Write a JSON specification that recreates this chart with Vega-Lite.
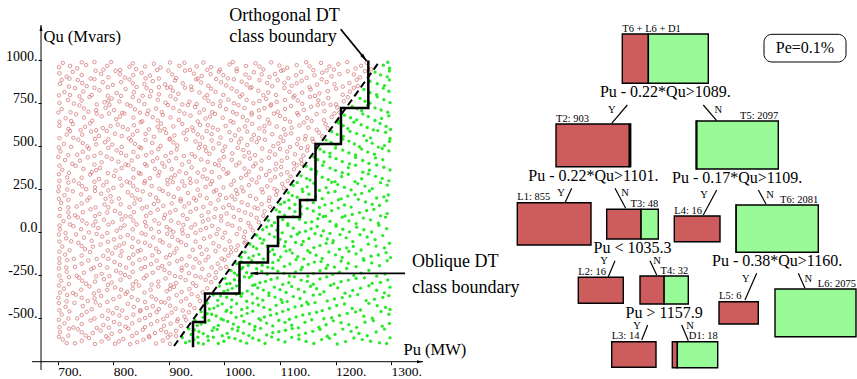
{
"$schema":"https://vega.github.io/schema/vega-lite/v6.json",
"width":857,"height":379,"autosize":{"type":"none"},"padding":0,"background":"white",
"config":{"view":{"stroke":null},"font":"Liberation Serif"},
"datasets":{
"red":[{"p":709,"q":983},{"p":735,"q":952},{"p":751,"q":971},{"p":782,"q":944},{"p":796,"q":988},{"p":829,"q":961},{"p":841,"q":947},{"p":873,"q":978},{"p":885,"q":956},{"p":919,"q":966},{"p":938,"q":942},{"p":962,"q":985},{"p":976,"q":959},{"p":1009,"q":974},{"p":1022,"q":949},{"p":1056,"q":981},{"p":1070,"q":945},{"p":1099,"q":968},{"p":1113,"q":954},{"p":1147,"q":987},{"p":1160,"q":941},{"p":1189,"q":963},{"p":1205,"q":976},{"p":1236,"q":951},{"p":1256,"q":984},
{"p":716,"q":903},{"p":727,"q":931},{"p":759,"q":892},{"p":778,"q":919},{"p":804,"q":936},{"p":821,"q":898},{"p":851,"q":925},{"p":866,"q":909},{"p":899,"q":938},{"p":913,"q":895},{"p":945,"q":921},{"p":959,"q":907},{"p":990,"q":932},{"p":1006,"q":893},{"p":1038,"q":915},{"p":1053,"q":929},{"p":1081,"q":901},{"p":1102,"q":937},{"p":1129,"q":911},{"p":1148,"q":896},{"p":1176,"q":926},{"p":1193,"q":905},{"p":1222,"q":934},{"p":1244,"q":899},
{"p":704,"q":862},{"p":736,"q":884},{"p":752,"q":848},{"p":781,"q":871},{"p":799,"q":855},{"p":829,"q":887},{"p":842,"q":843},{"p":871,"q":877},{"p":893,"q":858},{"p":911,"q":881},{"p":940,"q":846},{"p":958,"q":869},{"p":985,"q":889},{"p":1003,"q":852},{"p":1031,"q":874},{"p":1049,"q":841},{"p":1077,"q":866},{"p":1096,"q":883},{"p":1121,"q":850},{"p":1139,"q":879},{"p":1167,"q":857},{"p":1184,"q":872},{"p":1213,"q":845},{"p":1238,"q":885},
{"p":712,"q":813},{"p":731,"q":836},{"p":761,"q":797},{"p":775,"q":824},{"p":806,"q":808},{"p":822,"q":831},{"p":853,"q":792},{"p":868,"q":819},{"p":897,"q":838},{"p":917,"q":803},{"p":941,"q":826},{"p":969,"q":795},{"p":984,"q":815},{"p":1013,"q":834},{"p":1032,"q":799},{"p":1061,"q":821},{"p":1079,"q":811},{"p":1108,"q":837},{"p":1126,"q":793},{"p":1155,"q":828},{"p":1171,"q":806},{"p":1201,"q":833},{"p":1226,"q":816},
{"p":718,"q":767},{"p":729,"q":746},{"p":757,"q":785},{"p":784,"q":754},{"p":797,"q":776},{"p":825,"q":742},{"p":846,"q":763},{"p":866,"q":788},{"p":894,"q":751},{"p":912,"q":772},{"p":937,"q":758},{"p":964,"q":781},{"p":979,"q":744},{"p":1007,"q":769},{"p":1028,"q":787},{"p":1052,"q":748},{"p":1075,"q":774},{"p":1094,"q":756},{"p":1124,"q":783},{"p":1140,"q":745},{"p":1169,"q":765},{"p":1187,"q":779},{"p":1215,"q":760},
{"p":707,"q":714},{"p":739,"q":736},{"p":755,"q":699},{"p":786,"q":722},{"p":801,"q":708},{"p":831,"q":733},{"p":848,"q":694},{"p":877,"q":717},{"p":898,"q":738},{"p":919,"q":703},{"p":947,"q":726},{"p":963,"q":711},{"p":992,"q":731},{"p":1015,"q":697},{"p":1036,"q":720},{"p":1062,"q":707},{"p":1083,"q":734},{"p":1109,"q":715},{"p":1131,"q":692},{"p":1156,"q":728},{"p":1180,"q":702},{"p":1203,"q":724},
{"p":714,"q":661},{"p":733,"q":684},{"p":762,"q":647},{"p":779,"q":672},{"p":805,"q":655},{"p":820,"q":688},{"p":852,"q":643},{"p":871,"q":667},{"p":889,"q":680},{"p":918,"q":651},{"p":939,"q":676},{"p":966,"q":659},{"p":983,"q":686},{"p":1011,"q":645},{"p":1033,"q":669},{"p":1049,"q":682},{"p":1078,"q":653},{"p":1100,"q":674},{"p":1118,"q":641},{"p":1149,"q":663},{"p":1166,"q":685},{"p":1193,"q":668},
{"p":703,"q":617},{"p":741,"q":592},{"p":758,"q":631},{"p":781,"q":604},{"p":808,"q":625},{"p":826,"q":596},{"p":849,"q":638},{"p":880,"q":611},{"p":892,"q":599},{"p":924,"q":628},{"p":942,"q":608},{"p":970,"q":621},{"p":988,"q":594},{"p":1016,"q":636},{"p":1037,"q":613},{"p":1063,"q":602},{"p":1081,"q":630},{"p":1107,"q":597},{"p":1135,"q":619},{"p":1151,"q":606},{"p":1182,"q":626},
{"p":716,"q":566},{"p":728,"q":547},{"p":760,"q":583},{"p":774,"q":558},{"p":803,"q":571},{"p":828,"q":544},{"p":843,"q":587},{"p":873,"q":553},{"p":895,"q":575},{"p":910,"q":561},{"p":944,"q":588},{"p":960,"q":549},{"p":977,"q":569},{"p":1009,"q":580},{"p":1030,"q":542},{"p":1053,"q":564},{"p":1072,"q":585},{"p":1101,"q":551},{"p":1120,"q":573},{"p":1146,"q":557},{"p":1170,"q":578},
{"p":711,"q":512},{"p":737,"q":536},{"p":753,"q":497},{"p":785,"q":521},{"p":798,"q":508},{"p":832,"q":531},{"p":847,"q":493},{"p":870,"q":517},{"p":901,"q":538},{"p":915,"q":503},{"p":948,"q":526},{"p":965,"q":495},{"p":990,"q":514},{"p":1012,"q":533},{"p":1041,"q":506},{"p":1058,"q":522},{"p":1088,"q":499},{"p":1106,"q":529},{"p":1131,"q":511},{"p":1160,"q":524},
{"p":705,"q":467},{"p":735,"q":449},{"p":756,"q":484},{"p":777,"q":458},{"p":806,"q":474},{"p":823,"q":444},{"p":850,"q":487},{"p":869,"q":462},{"p":894,"q":441},{"p":914,"q":479},{"p":941,"q":453},{"p":967,"q":471},{"p":980,"q":486},{"p":1014,"q":457},{"p":1034,"q":476},{"p":1055,"q":446},{"p":1082,"q":468},{"p":1100,"q":482},{"p":1127,"q":451},{"p":1149,"q":473},
{"p":713,"q":418},{"p":726,"q":396},{"p":754,"q":433},{"p":779,"q":405},{"p":797,"q":424},{"p":822,"q":392},{"p":844,"q":437},{"p":871,"q":411},{"p":888,"q":399},{"p":913,"q":428},{"p":936,"q":408},{"p":958,"q":421},{"p":983,"q":394},{"p":999,"q":435},{"p":1027,"q":402},{"p":1046,"q":426},{"p":1067,"q":414},{"p":1093,"q":397},{"p":1113,"q":431},{"p":1138,"q":419},
{"p":708,"q":361},{"p":732,"q":384},{"p":761,"q":347},{"p":776,"q":372},{"p":804,"q":356},{"p":827,"q":388},{"p":846,"q":343},{"p":875,"q":367},{"p":892,"q":379},{"p":919,"q":351},{"p":941,"q":375},{"p":964,"q":362},{"p":990,"q":386},{"p":1007,"q":345},{"p":1036,"q":369},{"p":1052,"q":381},{"p":1081,"q":353},{"p":1102,"q":377},{"p":1125,"q":364},
{"p":717,"q":316},{"p":729,"q":298},{"p":758,"q":333},{"p":774,"q":307},{"p":801,"q":325},{"p":824,"q":293},{"p":849,"q":337},{"p":866,"q":312},{"p":897,"q":301},{"p":911,"q":329},{"p":938,"q":309},{"p":961,"q":321},{"p":978,"q":295},{"p":1004,"q":338},{"p":1030,"q":314},{"p":1049,"q":304},{"p":1075,"q":331},{"p":1091,"q":318},{"p":1114,"q":296},
{"p":702,"q":263},{"p":738,"q":281},{"p":751,"q":248},{"p":782,"q":271},{"p":800,"q":256},{"p":830,"q":286},{"p":843,"q":244},{"p":869,"q":267},{"p":898,"q":277},{"p":917,"q":252},{"p":939,"q":284},{"p":966,"q":261},{"p":985,"q":242},{"p":1012,"q":274},{"p":1031,"q":258},{"p":1058,"q":288},{"p":1077,"q":265},{"p":1104,"q":279},
{"p":712,"q":213},{"p":727,"q":236},{"p":757,"q":199},{"p":778,"q":222},{"p":795,"q":207},{"p":826,"q":231},{"p":840,"q":194},{"p":866,"q":217},{"p":889,"q":238},{"p":909,"q":203},{"p":934,"q":226},{"p":956,"q":212},{"p":981,"q":234},{"p":1003,"q":197},{"p":1023,"q":220},{"p":1046,"q":209},{"p":1069,"q":229},{"p":1093,"q":215},
{"p":706,"q":168},{"p":734,"q":147},{"p":753,"q":183},{"p":784,"q":159},{"p":797,"q":176},{"p":829,"q":143},{"p":848,"q":187},{"p":873,"q":162},{"p":890,"q":151},{"p":921,"q":179},{"p":936,"q":166},{"p":962,"q":145},{"p":989,"q":185},{"p":1008,"q":156},{"p":1031,"q":172},{"p":1054,"q":141},{"p":1080,"q":180},
{"p":719,"q":113},{"p":731,"q":96},{"p":759,"q":131},{"p":775,"q":104},{"p":803,"q":122},{"p":822,"q":91},{"p":852,"q":137},{"p":867,"q":110},{"p":893,"q":99},{"p":912,"q":127},{"p":939,"q":116},{"p":959,"q":94},{"p":984,"q":134},{"p":1004,"q":107},{"p":1026,"q":125},{"p":1048,"q":100},{"p":1072,"q":119},
{"p":710,"q":62},{"p":736,"q":84},{"p":752,"q":48},{"p":783,"q":71},{"p":799,"q":56},{"p":831,"q":88},{"p":842,"q":43},{"p":874,"q":67},{"p":891,"q":79},{"p":917,"q":52},{"p":933,"q":75},{"p":961,"q":60},{"p":982,"q":86},{"p":1006,"q":45},{"p":1029,"q":69},{"p":1058,"q":81},
{"p":704,"q":14},{"p":728,"q":33},{"p":756,"q":-3},{"p":773,"q":22},{"p":806,"q":6},{"p":820,"q":37},{"p":851,"q":-8},{"p":868,"q":17},{"p":896,"q":28},{"p":908,"q":0},{"p":940,"q":25},{"p":957,"q":10},{"p":978,"q":35},{"p":1001,"q":-5},{"p":1027,"q":19},{"p":1047,"q":30},
{"p":715,"q":-38},{"p":733,"q":-15},{"p":761,"q":-52},{"p":780,"q":-27},{"p":801,"q":-44},{"p":826,"q":-19},{"p":845,"q":-57},{"p":872,"q":-33},{"p":897,"q":-11},{"p":916,"q":-48},{"p":934,"q":-24},{"p":963,"q":-40},{"p":986,"q":-13},{"p":1009,"q":-55},{"p":1035,"q":-30},
{"p":708,"q":-86},{"p":737,"q":-64},{"p":749,"q":-101},{"p":777,"q":-74},{"p":804,"q":-92},{"p":819,"q":-68},{"p":849,"q":-107},{"p":866,"q":-81},{"p":889,"q":-62},{"p":914,"q":-97},{"p":931,"q":-77},{"p":956,"q":-89},{"p":980,"q":-66},{"p":1001,"q":-104},{"p":1024,"q":-80},
{"p":713,"q":-133},{"p":729,"q":-157},{"p":758,"q":-118},{"p":782,"q":-141},{"p":798,"q":-126},{"p":828,"q":-153},{"p":844,"q":-113},{"p":870,"q":-137},{"p":895,"q":-149},{"p":910,"q":-121},{"p":937,"q":-144},{"p":959,"q":-129},{"p":984,"q":-112},{"p":1007,"q":-139},
{"p":703,"q":-182},{"p":731,"q":-204},{"p":755,"q":-167},{"p":776,"q":-193},{"p":802,"q":-176},{"p":823,"q":-208},{"p":847,"q":-163},{"p":868,"q":-188},{"p":888,"q":-199},{"p":915,"q":-171},{"p":932,"q":-195},{"p":955,"q":-180},{"p":977,"q":-207},{"p":1000,"q":-164},
{"p":716,"q":-233},{"p":734,"q":-256},{"p":760,"q":-218},{"p":779,"q":-245},{"p":805,"q":-227},{"p":821,"q":-251},{"p":850,"q":-214},{"p":871,"q":-238},{"p":892,"q":-223},{"p":911,"q":-258},{"p":936,"q":-241},{"p":960,"q":-216},{"p":985,"q":-236},
{"p":706,"q":-284},{"p":738,"q":-267},{"p":751,"q":-302},{"p":783,"q":-276},{"p":797,"q":-295},{"p":829,"q":-263},{"p":841,"q":-289},{"p":869,"q":-307},{"p":894,"q":-272},{"p":913,"q":-298},{"p":930,"q":-281},{"p":957,"q":-265},{"p":976,"q":-293},
{"p":711,"q":-331},{"p":727,"q":-356},{"p":757,"q":-318},{"p":774,"q":-343},{"p":803,"q":-324},{"p":825,"q":-350},{"p":846,"q":-313},{"p":867,"q":-337},{"p":896,"q":-346},{"p":909,"q":-321},{"p":937,"q":-333},{"p":961,"q":-352},
{"p":701,"q":-384},{"p":733,"q":-366},{"p":754,"q":-402},{"p":778,"q":-373},{"p":800,"q":-392},{"p":822,"q":-362},{"p":844,"q":-397},{"p":869,"q":-378},{"p":886,"q":-408},{"p":914,"q":-369},{"p":931,"q":-389},{"p":952,"q":-376},
{"p":714,"q":-437},{"p":730,"q":-414},{"p":761,"q":-451},{"p":776,"q":-428},{"p":806,"q":-444},{"p":826,"q":-419},{"p":849,"q":-456},{"p":871,"q":-433},{"p":893,"q":-412},{"p":912,"q":-447},{"p":938,"q":-425},
{"p":707,"q":-482},{"p":735,"q":-504},{"p":752,"q":-466},{"p":780,"q":-489},{"p":799,"q":-474},{"p":824,"q":-501},{"p":848,"q":-463},{"p":866,"q":-485},{"p":890,"q":-508},{"p":905,"q":-470},{"p":928,"q":-493},
{"p":712,"q":-533},{"p":728,"q":-557},{"p":759,"q":-516},{"p":782,"q":-543},{"p":801,"q":-525},{"p":822,"q":-552},{"p":847,"q":-514},{"p":868,"q":-538},{"p":891,"q":-547},{"p":915,"q":-521},
{"p":704,"q":-584},{"p":736,"q":-567},{"p":750,"q":-603},{"p":777,"q":-575},{"p":797,"q":-594},{"p":827,"q":-563},{"p":842,"q":-589},{"p":864,"q":-607},{"p":886,"q":-571},{"p":903,"q":-598},
{"p":709,"q":-627},{"p":731,"q":-649},{"p":756,"q":-618},{"p":779,"q":-638},{"p":803,"q":-652},{"p":818,"q":-624},{"p":843,"q":-642},{"p":865,"q":-614},{"p":889,"q":-633},
{"p":702,"q":958},{"p":722,"q":966},{"p":743,"q":987},{"p":766,"q":988},{"p":789,"q":966},{"p":812,"q":942},{"p":835,"q":980},{"p":857,"q":962},{"p":879,"q":942},{"p":902,"q":985},{"p":928,"q":984},{"p":950,"q":963},{"p":969,"q":943},{"p":992,"q":944},{"p":1015,"q":988},{"p":1039,"q":965},{"p":1063,"q":962},{"p":1084,"q":986},{"p":1106,"q":941},{"p":1130,"q":970},{"p":1153,"q":963},{"p":1174,"q":983},{"p":1197,"q":944},{"p":1221,"q":988},{"p":1246,"q":966},{"p":1264,"q":946},
{"p":703,"q":923},{"p":721,"q":891},{"p":743,"q":912},{"p":768,"q":937},{"p":791,"q":899},{"p":812,"q":917},{"p":836,"q":912},{"p":858,"q":893},{"p":882,"q":892},{"p":906,"q":916},{"p":929,"q":938},{"p":952,"q":892},{"p":975,"q":918},{"p":998,"q":912},{"p":1022,"q":935},{"p":1045,"q":896},{"p":1067,"q":916},{"p":1091,"q":919},{"p":1115,"q":894},{"p":1138,"q":931},{"p":1162,"q":911},{"p":1184,"q":939},{"p":1207,"q":918},{"p":1233,"q":916},{"p":1253,"q":935},
{"p":707,"q":884},{"p":720,"q":845},{"p":744,"q":866},{"p":766,"q":888},{"p":790,"q":842},{"p":814,"q":871},{"p":835,"q":865},{"p":856,"q":860},{"p":882,"q":842},{"p":903,"q":843},{"p":925,"q":864},{"p":949,"q":887},{"p":971,"q":850},{"p":994,"q":870},{"p":1017,"q":888},{"p":1040,"q":858},{"p":1063,"q":883},{"p":1086,"q":847},{"p":1108,"q":867},{"p":1130,"q":864},{"p":1153,"q":842},{"p":1175,"q":888},{"p":1198,"q":860},{"p":1225,"q":866},{"p":1240,"q":848},
{"p":702,"q":794},{"p":722,"q":796},{"p":746,"q":816},{"p":766,"q":838},{"p":790,"q":792},{"p":814,"q":791},{"p":837,"q":812},{"p":860,"q":836},{"p":882,"q":800},{"p":907,"q":821},{"p":929,"q":839},{"p":955,"q":811},{"p":976,"q":833},{"p":998,"q":797},{"p":1022,"q":817},{"p":1046,"q":838},{"p":1070,"q":795},{"p":1093,"q":796},{"p":1117,"q":815},{"p":1140,"q":810},{"p":1163,"q":791},{"p":1186,"q":819},{"p":1213,"q":798},{"p":1233,"q":838},
{"p":703,"q":750},{"p":739,"q":789},{"p":743,"q":765},{"p":770,"q":741},{"p":791,"q":763},{"p":811,"q":759},{"p":835,"q":784},{"p":856,"q":743},{"p":880,"q":769},{"p":903,"q":789},{"p":924,"q":742},{"p":950,"q":744},{"p":971,"q":763},{"p":993,"q":759},{"p":1017,"q":748},{"p":1040,"q":768},{"p":1063,"q":761},{"p":1084,"q":741},{"p":1109,"q":768},{"p":1132,"q":764},{"p":1154,"q":786},{"p":1178,"q":746},{"p":1201,"q":742},{"p":1222,"q":784},
{"p":701,"q":694},{"p":723,"q":696},{"p":747,"q":718},{"p":769,"q":708},{"p":793,"q":738},{"p":816,"q":693},{"p":839,"q":713},{"p":863,"q":705},{"p":887,"q":697},{"p":908,"q":721},{"p":934,"q":738},{"p":955,"q":694},{"p":978,"q":696},{"p":1003,"q":714},{"p":1025,"q":737},{"p":1049,"q":693},{"p":1072,"q":720},{"p":1096,"q":698},{"p":1120,"q":733},{"p":1143,"q":710},{"p":1168,"q":738},{"p":1191,"q":739},{"p":1207,"q":696},
{"p":703,"q":641},{"p":724,"q":645},{"p":747,"q":665},{"p":770,"q":688},{"p":792,"q":689},{"p":812,"q":671},{"p":836,"q":665},{"p":861,"q":685},{"p":880,"q":648},{"p":903,"q":666},{"p":928,"q":689},{"p":952,"q":642},{"p":974,"q":671},{"p":997,"q":664},{"p":1022,"q":686},{"p":1041,"q":648},{"p":1063,"q":668},{"p":1089,"q":688},{"p":1109,"q":657},{"p":1133,"q":681},{"p":1157,"q":645},{"p":1179,"q":650},{"p":1198,"q":689},
{"p":719,"q":599},{"p":727,"q":627},{"p":749,"q":611},{"p":769,"q":591},{"p":795,"q":615},{"p":817,"q":610},{"p":837,"q":620},{"p":864,"q":596},{"p":886,"q":630},{"p":908,"q":613},{"p":933,"q":592},{"p":956,"q":623},{"p":979,"q":607},{"p":1002,"q":616},{"p":1026,"q":595},{"p":1050,"q":629},{"p":1072,"q":615},{"p":1094,"q":613},{"p":1121,"q":606},{"p":1143,"q":636},{"p":1166,"q":594},{"p":1186,"q":603},
{"p":703,"q":545},{"p":722,"q":587},{"p":744,"q":565},{"p":767,"q":541},{"p":788,"q":587},{"p":815,"q":557},{"p":835,"q":566},{"p":858,"q":570},{"p":884,"q":589},{"p":902,"q":543},{"p":927,"q":574},{"p":952,"q":567},{"p":968,"q":586},{"p":993,"q":549},{"p":1019,"q":561},{"p":1041,"q":583},{"p":1062,"q":545},{"p":1086,"q":568},{"p":1110,"q":566},{"p":1133,"q":541},{"p":1158,"q":542},{"p":1176,"q":556},
{"p":702,"q":491},{"p":724,"q":494},{"p":745,"q":516},{"p":769,"q":509},{"p":791,"q":538},{"p":815,"q":494},{"p":839,"q":512},{"p":858,"q":535},{"p":885,"q":500},{"p":908,"q":520},{"p":931,"q":539},{"p":956,"q":511},{"p":977,"q":532},{"p":1001,"q":496},{"p":1026,"q":520},{"p":1049,"q":538},{"p":1073,"q":536},{"p":1097,"q":514},{"p":1118,"q":494},{"p":1145,"q":538},{"p":1150,"q":496},
{"p":719,"q":446},{"p":745,"q":466},{"p":766,"q":442},{"p":791,"q":489},{"p":814,"q":459},{"p":836,"q":465},{"p":859,"q":446},{"p":881,"q":481},{"p":904,"q":460},{"p":927,"q":441},{"p":954,"q":488},{"p":973,"q":454},{"p":997,"q":471},{"p":1024,"q":489},{"p":1044,"q":461},{"p":1068,"q":485},{"p":1091,"q":450},{"p":1113,"q":467},{"p":1138,"q":488},{"p":1142,"q":443},
{"p":701,"q":436},{"p":740,"q":414},{"p":766,"q":391},{"p":788,"q":438},{"p":809,"q":408},{"p":833,"q":415},{"p":857,"q":394},{"p":879,"q":428},{"p":900,"q":413},{"p":924,"q":392},{"p":947,"q":437},{"p":970,"q":407},{"p":991,"q":416},{"p":1013,"q":419},{"p":1036,"q":439},{"p":1056,"q":397},{"p":1080,"q":431},{"p":1103,"q":414},{"p":1125,"q":399},{"p":1139,"q":396},
{"p":703,"q":385},{"p":720,"q":343},{"p":746,"q":366},{"p":769,"q":359},{"p":790,"q":341},{"p":815,"q":371},{"p":836,"q":365},{"p":860,"q":385},{"p":883,"q":348},{"p":905,"q":365},{"p":931,"q":341},{"p":952,"q":345},{"p":977,"q":348},{"p":998,"q":365},{"p":1021,"q":387},{"p":1044,"q":350},{"p":1066,"q":367},{"p":1092,"q":364},{"p":1113,"q":346},{"p":1130,"q":387},
{"p":703,"q":296},{"p":702,"q":335},{"p":743,"q":315},{"p":766,"q":291},{"p":788,"q":291},{"p":812,"q":309},{"p":836,"q":315},{"p":857,"q":295},{"p":881,"q":327},{"p":904,"q":315},{"p":924,"q":293},{"p":950,"q":293},{"p":969,"q":309},{"p":991,"q":318},{"p":1017,"q":297},{"p":1039,"q":330},{"p":1062,"q":317},{"p":1083,"q":300},{"p":1102,"q":334},{"p":1119,"q":322},
{"p":717,"q":246},{"p":719,"q":286},{"p":744,"q":265},{"p":767,"q":259},{"p":791,"q":241},{"p":815,"q":270},{"p":836,"q":265},{"p":856,"q":283},{"p":883,"q":250},{"p":907,"q":289},{"p":928,"q":268},{"p":952,"q":245},{"p":975,"q":278},{"p":998,"q":258},{"p":1021,"q":242},{"p":1044,"q":272},{"p":1067,"q":248},{"p":1090,"q":250},{"p":1107,"q":254},
{"p":702,"q":192},{"p":701,"q":236},{"p":742,"q":218},{"p":767,"q":238},{"p":786,"q":192},{"p":810,"q":193},{"p":833,"q":212},{"p":853,"q":235},{"p":877,"q":199},{"p":899,"q":220},{"p":921,"q":191},{"p":945,"q":195},{"p":968,"q":196},{"p":992,"q":215},{"p":1013,"q":207},{"p":1034,"q":236},{"p":1057,"q":192},{"p":1081,"q":198},{"p":1095,"q":238},
{"p":719,"q":186},{"p":719,"q":142},{"p":743,"q":165},{"p":768,"q":142},{"p":791,"q":142},{"p":813,"q":160},{"p":838,"q":165},{"p":860,"q":145},{"p":881,"q":178},{"p":905,"q":165},{"p":928,"q":147},{"p":949,"q":183},{"p":975,"q":165},{"p":998,"q":141},{"p":1019,"q":188},{"p":1042,"q":157},{"p":1067,"q":161},{"p":1082,"q":146},
{"p":703,"q":92},{"p":704,"q":133},{"p":745,"q":114},{"p":767,"q":91},{"p":789,"q":113},{"p":812,"q":106},{"p":837,"q":114},{"p":859,"q":93},{"p":880,"q":129},{"p":902,"q":113},{"p":925,"q":97},{"p":949,"q":134},{"p":971,"q":114},{"p":994,"q":91},{"p":1015,"q":139},{"p":1037,"q":113},{"p":1060,"q":135},{"p":1070,"q":93},
{"p":722,"q":43},{"p":720,"q":85},{"p":744,"q":66},{"p":768,"q":60},{"p":791,"q":42},{"p":815,"q":72},{"p":836,"q":65},{"p":857,"q":58},{"p":882,"q":48},{"p":904,"q":65},{"p":926,"q":41},{"p":947,"q":42},{"p":971,"q":72},{"p":994,"q":65},{"p":1017,"q":87},{"p":1043,"q":51},{"p":1062,"q":56},
{"p":714,"q":-7},{"p":703,"q":37},{"p":742,"q":15},{"p":764,"q":38},{"p":789,"q":-7},{"p":813,"q":22},{"p":835,"q":14},{"p":859,"q":33},{"p":882,"q":0},{"p":902,"q":13},{"p":924,"q":12},{"p":948,"q":-6},{"p":967,"q":22},{"p":989,"q":15},{"p":1014,"q":36},{"p":1037,"q":0},{"p":1051,"q":8},
{"p":702,"q":-16},{"p":703,"q":-57},{"p":724,"q":-55},{"p":747,"q":-34},{"p":770,"q":-12},{"p":790,"q":-58},{"p":813,"q":-31},{"p":835,"q":-38},{"p":858,"q":-16},{"p":884,"q":-50},{"p":906,"q":-29},{"p":925,"q":-10},{"p":948,"q":-57},{"p":974,"q":-27},{"p":997,"q":-34},{"p":1022,"q":-13},{"p":1038,"q":-56},
{"p":721,"q":-107},{"p":743,"q":-83},{"p":763,"q":-87},{"p":790,"q":-108},{"p":811,"q":-80},{"p":834,"q":-88},{"p":857,"q":-64},{"p":877,"q":-98},{"p":901,"q":-80},{"p":922,"q":-61},{"p":943,"q":-105},{"p":968,"q":-104},{"p":990,"q":-85},{"p":1012,"q":-91},{"p":1021,"q":-107},{"p":1036,"q":-65},
{"p":703,"q":-115},{"p":703,"q":-155},{"p":743,"q":-138},{"p":770,"q":-158},{"p":791,"q":-157},{"p":813,"q":-139},{"p":815,"q":-113},{"p":836,"q":-133},{"p":857,"q":-155},{"p":882,"q":-118},{"p":902,"q":-135},{"p":923,"q":-159},{"p":948,"q":-158},{"p":971,"q":-146},{"p":995,"q":-156},{"p":1012,"q":-119},
{"p":717,"q":-165},{"p":715,"q":-207},{"p":743,"q":-186},{"p":765,"q":-208},{"p":789,"q":-208},{"p":812,"q":-192},{"p":835,"q":-185},{"p":857,"q":-205},{"p":878,"q":-168},{"p":901,"q":-185},{"p":923,"q":-209},{"p":944,"q":-207},{"p":966,"q":-166},{"p":988,"q":-186},{"p":1003,"q":-204},
{"p":702,"q":-213},{"p":703,"q":-255},{"p":747,"q":-238},{"p":769,"q":-259},{"p":793,"q":-258},{"p":813,"q":-239},{"p":835,"q":-233},{"p":860,"q":-255},{"p":881,"q":-210},{"p":901,"q":-240},{"p":923,"q":-225},{"p":948,"q":-257},{"p":972,"q":-253},{"p":993,"q":-213},
{"p":720,"q":-305},{"p":720,"q":-264},{"p":744,"q":-285},{"p":767,"q":-290},{"p":790,"q":-309},{"p":813,"q":-279},{"p":835,"q":-306},{"p":855,"q":-270},{"p":881,"q":-290},{"p":903,"q":-310},{"p":921,"q":-264},{"p":943,"q":-299},{"p":966,"q":-279},{"p":984,"q":-268},
{"p":702,"q":-313},{"p":704,"q":-353},{"p":742,"q":-337},{"p":765,"q":-359},{"p":789,"q":-338},{"p":814,"q":-337},{"p":835,"q":-331},{"p":856,"q":-354},{"p":881,"q":-318},{"p":902,"q":-333},{"p":923,"q":-350},{"p":949,"q":-315},{"p":969,"q":-329},
{"p":716,"q":-405},{"p":717,"q":-368},{"p":743,"q":-384},{"p":766,"q":-387},{"p":789,"q":-408},{"p":811,"q":-377},{"p":833,"q":-380},{"p":857,"q":-409},{"p":877,"q":-393},{"p":900,"q":-388},{"p":922,"q":-405},{"p":941,"q":-363},{"p":956,"q":-403},
{"p":702,"q":-415},{"p":703,"q":-457},{"p":745,"q":-432},{"p":768,"q":-411},{"p":791,"q":-459},{"p":816,"q":-458},{"p":837,"q":-437},{"p":860,"q":-444},{"p":882,"q":-450},{"p":902,"q":-430},{"p":925,"q":-458},{"p":946,"q":-444},
{"p":721,"q":-463},{"p":719,"q":-505},{"p":743,"q":-485},{"p":766,"q":-505},{"p":790,"q":-506},{"p":811,"q":-487},{"p":836,"q":-482},{"p":857,"q":-502},{"p":878,"q":-467},{"p":897,"q":-489},{"p":916,"q":-509},{"p":936,"q":-469},
{"p":702,"q":-512},{"p":703,"q":-555},{"p":743,"q":-537},{"p":770,"q":-559},{"p":792,"q":-558},{"p":811,"q":-538},{"p":834,"q":-533},{"p":857,"q":-555},{"p":879,"q":-520},{"p":903,"q":-535},{"p":922,"q":-548},{"p":931,"q":-514},
{"p":719,"q":-605},{"p":720,"q":-564},{"p":743,"q":-585},{"p":763,"q":-589},{"p":787,"q":-608},{"p":812,"q":-579},{"p":834,"q":-606},{"p":853,"q":-570},{"p":875,"q":-589},{"p":895,"q":-584},{"p":913,"q":-577},{"p":913,"q":-607},
{"p":702,"q":-611},{"p":716,"q":-648},{"p":743,"q":-634},{"p":767,"q":-653},{"p":791,"q":-621},{"p":810,"q":-638},{"p":830,"q":-654},{"p":854,"q":-628},{"p":877,"q":-650},{"p":898,"q":-614},{"p":902,"q":-652}],
"green":[{"p":1286,"q":970},{"p":1271,"q":930},{"p":1293,"q":902},{"p":1262,"q":876},{"p":1288,"q":851},{"p":1251,"q":829},{"p":1274,"q":798},{"p":1296,"q":818},{"p":1244,"q":777},{"p":1262,"q":749},{"p":1287,"q":769},
{"p":1230,"q":730},{"p":1247,"q":705},{"p":1271,"q":721},{"p":1294,"q":696},{"p":1216,"q":679},{"p":1238,"q":652},{"p":1259,"q":671},{"p":1283,"q":660},
{"p":1205,"q":633},{"p":1222,"q":601},{"p":1246,"q":623},{"p":1268,"q":593},{"p":1291,"q":614},{"p":1193,"q":584},{"p":1214,"q":556},{"p":1238,"q":572},{"p":1263,"q":547},{"p":1290,"q":579},
{"p":1183,"q":534},{"p":1201,"q":507},{"p":1224,"q":528},{"p":1243,"q":495},{"p":1266,"q":516},{"p":1288,"q":502},{"p":1172,"q":481},{"p":1190,"q":458},{"p":1213,"q":476},{"p":1236,"q":447},{"p":1258,"q":464},{"p":1284,"q":485},
{"p":1161,"q":436},{"p":1179,"q":407},{"p":1201,"q":426},{"p":1225,"q":395},{"p":1249,"q":415},{"p":1272,"q":430},
{"p":1147,"q":382},{"p":1166,"q":352},{"p":1190,"q":371},{"p":1212,"q":344},{"p":1236,"q":388},{"p":1261,"q":359},{"p":1287,"q":376},
{"p":1138,"q":326},{"p":1154,"q":301},{"p":1176,"q":318},{"p":1199,"q":292},{"p":1223,"q":335},{"p":1247,"q":309},{"p":1272,"q":323},{"p":1296,"q":297},
{"p":1124,"q":270},{"p":1140,"q":249},{"p":1161,"q":283},{"p":1183,"q":257},{"p":1204,"q":275},{"p":1228,"q":244},{"p":1253,"q":266},{"p":1281,"q":286},
{"p":1115,"q":228},{"p":1131,"q":201},{"p":1152,"q":219},{"p":1176,"q":193},{"p":1199,"q":235},{"p":1222,"q":208},{"p":1247,"q":224},{"p":1274,"q":197},{"p":1295,"q":215},
{"p":1101,"q":161},{"p":1116,"q":184},{"p":1138,"q":148},{"p":1160,"q":170},{"p":1181,"q":157},{"p":1205,"q":186},{"p":1228,"q":144},{"p":1254,"q":174},{"p":1279,"q":153},
{"p":1093,"q":128},{"p":1108,"q":97},{"p":1127,"q":118},{"p":1149,"q":135},{"p":1171,"q":102},{"p":1193,"q":123},{"p":1217,"q":92},{"p":1243,"q":112},{"p":1269,"q":131},{"p":1293,"q":106},
{"p":1079,"q":66},{"p":1096,"q":85},{"p":1114,"q":47},{"p":1135,"q":73},{"p":1157,"q":58},{"p":1178,"q":88},{"p":1201,"q":42},{"p":1224,"q":64},{"p":1250,"q":80},{"p":1277,"q":51},
{"p":1069,"q":12},{"p":1085,"q":36},{"p":1104,"q":-6},{"p":1124,"q":21},{"p":1146,"q":4},{"p":1167,"q":31},{"p":1190,"q":-9},{"p":1213,"q":15},{"p":1238,"q":27},{"p":1265,"q":-1},{"p":1292,"q":19},
{"p":1058,"q":-20},{"p":1071,"q":-47},{"p":1090,"q":-29},{"p":1110,"q":-58},{"p":1131,"q":-14},{"p":1152,"q":-39},{"p":1174,"q":-23},{"p":1196,"q":-51},{"p":1219,"q":-35},{"p":1244,"q":-17},{"p":1271,"q":-45},
{"p":1046,"q":-71},{"p":1058,"q":-98},{"p":1077,"q":-83},{"p":1097,"q":-63},{"p":1118,"q":-106},{"p":1139,"q":-75},{"p":1161,"q":-92},{"p":1183,"q":-67},{"p":1207,"q":-101},{"p":1232,"q":-85},{"p":1259,"q":-72},{"p":1288,"q":-94},
{"p":1037,"q":-119},{"p":1044,"q":-152},{"p":1062,"q":-131},{"p":1081,"q":-115},{"p":1101,"q":-146},{"p":1122,"q":-124},{"p":1143,"q":-158},{"p":1165,"q":-136},{"p":1188,"q":-117},{"p":1212,"q":-149},{"p":1237,"q":-128},{"p":1264,"q":-142},{"p":1291,"q":-121},
{"p":1022,"q":-185},{"p":1033,"q":-207},{"p":1049,"q":-168},{"p":1068,"q":-194},{"p":1087,"q":-178},{"p":1108,"q":-201},{"p":1129,"q":-162},{"p":1151,"q":-189},{"p":1174,"q":-173},{"p":1198,"q":-205},{"p":1223,"q":-183},{"p":1251,"q":-166},{"p":1279,"q":-197},
{"p":1012,"q":-226},{"p":1023,"q":-252},{"p":1040,"q":-238},{"p":1058,"q":-215},{"p":1077,"q":-247},{"p":1096,"q":-229},{"p":1117,"q":-257},{"p":1138,"q":-220},{"p":1160,"q":-243},{"p":1183,"q":-212},{"p":1207,"q":-235},{"p":1233,"q":-254},{"p":1260,"q":-224},{"p":1289,"q":-246},
{"p":1001,"q":-271},{"p":1010,"q":-301},{"p":1027,"q":-284},{"p":1045,"q":-266},{"p":1064,"q":-296},{"p":1084,"q":-277},{"p":1105,"q":-306},{"p":1126,"q":-262},{"p":1149,"q":-288},{"p":1172,"q":-274},{"p":1197,"q":-303},{"p":1223,"q":-281},{"p":1252,"q":-268},{"p":1281,"q":-294},
{"p":991,"q":-316},{"p":999,"q":-347},{"p":1014,"q":-329},{"p":1032,"q":-358},{"p":1051,"q":-312},{"p":1070,"q":-339},{"p":1090,"q":-322},{"p":1111,"q":-353},{"p":1133,"q":-334},{"p":1155,"q":-317},{"p":1179,"q":-349},{"p":1204,"q":-326},{"p":1231,"q":-341},{"p":1260,"q":-314},{"p":1288,"q":-355},
{"p":980,"q":-368},{"p":988,"q":-399},{"p":1004,"q":-381},{"p":1021,"q":-363},{"p":1040,"q":-404},{"p":1059,"q":-386},{"p":1080,"q":-370},{"p":1102,"q":-395},{"p":1124,"q":-377},{"p":1148,"q":-409},{"p":1172,"q":-364},{"p":1198,"q":-391},{"p":1226,"q":-374},{"p":1255,"q":-400},{"p":1285,"q":-382},
{"p":969,"q":-415},{"p":973,"q":-449},{"p":988,"q":-431},{"p":1004,"q":-457},{"p":1022,"q":-418},{"p":1041,"q":-442},{"p":1061,"q":-426},{"p":1082,"q":-453},{"p":1104,"q":-411},{"p":1127,"q":-437},{"p":1151,"q":-421},{"p":1176,"q":-459},{"p":1202,"q":-429},{"p":1230,"q":-446},{"p":1260,"q":-416},{"p":1290,"q":-440},
{"p":958,"q":-465},{"p":962,"q":-498},{"p":977,"q":-480},{"p":994,"q":-507},{"p":1012,"q":-471},{"p":1031,"q":-489},{"p":1051,"q":-462},{"p":1072,"q":-496},{"p":1094,"q":-477},{"p":1117,"q":-509},{"p":1141,"q":-484},{"p":1166,"q":-468},{"p":1193,"q":-500},{"p":1221,"q":-475},{"p":1251,"q":-491},{"p":1282,"q":-464},
{"p":947,"q":-515},{"p":951,"q":-546},{"p":965,"q":-529},{"p":981,"q":-558},{"p":998,"q":-513},{"p":1016,"q":-537},{"p":1035,"q":-522},{"p":1055,"q":-551},{"p":1076,"q":-531},{"p":1098,"q":-516},{"p":1121,"q":-544},{"p":1145,"q":-527},{"p":1170,"q":-555},{"p":1196,"q":-518},{"p":1224,"q":-540},{"p":1253,"q":-526},{"p":1284,"q":-549},
{"p":936,"q":-565},{"p":940,"q":-597},{"p":954,"q":-581},{"p":970,"q":-609},{"p":987,"q":-568},{"p":1005,"q":-591},{"p":1024,"q":-576},{"p":1044,"q":-604},{"p":1065,"q":-562},{"p":1087,"q":-587},{"p":1110,"q":-573},{"p":1134,"q":-601},{"p":1159,"q":-579},{"p":1185,"q":-608},{"p":1213,"q":-566},{"p":1242,"q":-592},{"p":1273,"q":-583},
{"p":924,"q":-616},{"p":930,"q":-645},{"p":945,"q":-628},{"p":962,"q":-653},{"p":980,"q":-613},{"p":999,"q":-637},{"p":1019,"q":-622},{"p":1040,"q":-648},{"p":1062,"q":-631},{"p":1085,"q":-612},{"p":1109,"q":-641},{"p":1134,"q":-625},{"p":1161,"q":-650},{"p":1189,"q":-619},{"p":1218,"q":-639},{"p":1248,"q":-627},{"p":1279,"q":-646},{"p":1298,"q":-617},
{"p":1297,"q":952},{"p":1294,"q":987},{"p":1281,"q":913},{"p":1297,"q":936},{"p":1275,"q":862},{"p":1297,"q":884},{"p":1262,"q":810},{"p":1286,"q":836},{"p":1253,"q":760},{"p":1275,"q":786},{"p":1298,"q":752},
{"p":1239,"q":717},{"p":1258,"q":737},{"p":1282,"q":709},{"p":1206,"q":645},{"p":1227,"q":664},{"p":1249,"q":686},{"p":1271,"q":648},{"p":1296,"q":675},
{"p":1214,"q":618},{"p":1233,"q":638},{"p":1257,"q":607},{"p":1280,"q":631},{"p":1299,"q":596},{"p":1203,"q":567},{"p":1226,"q":585},{"p":1251,"q":560},{"p":1276,"q":589},{"p":1298,"q":543},
{"p":1192,"q":521},{"p":1213,"q":539},{"p":1234,"q":511},{"p":1256,"q":531},{"p":1277,"q":493},{"p":1297,"q":526},{"p":1179,"q":465},{"p":1200,"q":488},{"p":1224,"q":459},{"p":1247,"q":482},{"p":1270,"q":452},{"p":1296,"q":471},
{"p":1168,"q":420},{"p":1190,"q":437},{"p":1212,"q":409},{"p":1236,"q":433},{"p":1260,"q":398},{"p":1285,"q":420},
{"p":1156,"q":364},{"p":1177,"q":387},{"p":1200,"q":358},{"p":1223,"q":374},{"p":1249,"q":347},{"p":1274,"q":389},{"p":1298,"q":360},
{"p":1148,"q":311},{"p":1165,"q":336},{"p":1187,"q":304},{"p":1211,"q":322},{"p":1235,"q":292},{"p":1259,"q":337},{"p":1284,"q":311},
{"p":1131,"q":286},{"p":1149,"q":262},{"p":1171,"q":241},{"p":1193,"q":288},{"p":1216,"q":259},{"p":1240,"q":281},{"p":1266,"q":251},{"p":1293,"q":272},
{"p":1122,"q":211},{"p":1141,"q":234},{"p":1164,"q":205},{"p":1187,"q":228},{"p":1210,"q":192},{"p":1235,"q":216},{"p":1261,"q":238},{"p":1287,"q":203},
{"p":1108,"q":172},{"p":1127,"q":159},{"p":1149,"q":185},{"p":1171,"q":142},{"p":1193,"q":167},{"p":1216,"q":156},{"p":1241,"q":189},{"p":1266,"q":160},{"p":1292,"q":181},
{"p":1099,"q":116},{"p":1117,"q":137},{"p":1138,"q":104},{"p":1160,"q":121},{"p":1182,"q":91},{"p":1205,"q":138},{"p":1230,"q":101},{"p":1256,"q":124},{"p":1281,"q":93},
{"p":1090,"q":53},{"p":1105,"q":71},{"p":1124,"q":88},{"p":1146,"q":54},{"p":1168,"q":76},{"p":1190,"q":61},{"p":1212,"q":85},{"p":1237,"q":48},{"p":1263,"q":70},{"p":1290,"q":86},
{"p":1076,"q":28},{"p":1094,"q":10},{"p":1114,"q":37},{"p":1135,"q":-4},{"p":1156,"q":18},{"p":1178,"q":5},{"p":1201,"q":33},{"p":1225,"q":0},{"p":1251,"q":12},{"p":1278,"q":38},
{"p":1064,"q":-38},{"p":1081,"q":-13},{"p":1100,"q":-44},{"p":1120,"q":-27},{"p":1142,"q":-56},{"p":1163,"q":-10},{"p":1185,"q":-42},{"p":1208,"q":-16},{"p":1231,"q":-57},{"p":1257,"q":-30},{"p":1285,"q":-22},
{"p":1052,"q":-86},{"p":1068,"q":-66},{"p":1087,"q":-104},{"p":1108,"q":-84},{"p":1128,"q":-62},{"p":1150,"q":-109},{"p":1172,"q":-80},{"p":1195,"q":-64},{"p":1220,"q":-93},{"p":1246,"q":-106},{"p":1273,"q":-83},{"p":1297,"q":-67},
{"p":1030,"q":-148},{"p":1052,"q":-140},{"p":1070,"q":-158},{"p":1090,"q":-132},{"p":1111,"q":-112},{"p":1132,"q":-145},{"p":1154,"q":-121},{"p":1176,"q":-155},{"p":1200,"q":-134},{"p":1224,"q":-113},{"p":1250,"q":-156},{"p":1277,"q":-135},{"p":1299,"q":-150},
{"p":1030,"q":-174},{"p":1043,"q":-196},{"p":1059,"q":-181},{"p":1078,"q":-206},{"p":1097,"q":-165},{"p":1118,"q":-187},{"p":1140,"q":-206},{"p":1162,"q":-176},{"p":1186,"q":-194},{"p":1210,"q":-170},{"p":1237,"q":-203},{"p":1265,"q":-181},{"p":1293,"q":-168},
{"p":1018,"q":-240},{"p":1031,"q":-215},{"p":1049,"q":-255},{"p":1067,"q":-231},{"p":1087,"q":-212},{"p":1107,"q":-242},{"p":1128,"q":-233},{"p":1150,"q":-258},{"p":1172,"q":-226},{"p":1195,"q":-248},{"p":1220,"q":-213},{"p":1246,"q":-240},{"p":1274,"q":-258},
{"p":1004,"q":-303},{"p":1018,"q":-279},{"p":1036,"q":-262},{"p":1055,"q":-308},{"p":1074,"q":-288},{"p":1095,"q":-269},{"p":1116,"q":-296},{"p":1138,"q":-281},{"p":1160,"q":-305},{"p":1184,"q":-262},{"p":1210,"q":-290},{"p":1237,"q":-271},{"p":1266,"q":-300},{"p":1294,"q":-280},
{"p":1006,"q":-339},{"p":1022,"q":-315},{"p":1041,"q":-345},{"p":1060,"q":-326},{"p":1080,"q":-355},{"p":1100,"q":-337},{"p":1121,"q":-318},{"p":1144,"q":-350},{"p":1166,"q":-331},{"p":1191,"q":-312},{"p":1217,"q":-357},{"p":1245,"q":-328},{"p":1274,"q":-340},{"p":1298,"q":-322},
{"p":993,"q":-373},{"p":1013,"q":-396},{"p":1030,"q":-375},{"p":1050,"q":-362},{"p":1069,"q":-398},{"p":1091,"q":-380},{"p":1113,"q":-406},{"p":1136,"q":-388},{"p":1160,"q":-369},{"p":1185,"q":-402},{"p":1212,"q":-383},{"p":1240,"q":-366},{"p":1270,"q":-392},{"p":1296,"q":-371},
{"p":981,"q":-444},{"p":996,"q":-419},{"p":1012,"q":-438},{"p":1031,"q":-452},{"p":1051,"q":-415},{"p":1071,"q":-440},{"p":1093,"q":-428},{"p":1115,"q":-452},{"p":1139,"q":-430},{"p":1163,"q":-412},{"p":1189,"q":-445},{"p":1216,"q":-420},{"p":1245,"q":-455},{"p":1275,"q":-430},{"p":1298,"q":-452},
{"p":969,"q":-476},{"p":985,"q":-490},{"p":1003,"q":-463},{"p":1021,"q":-498},{"p":1041,"q":-475},{"p":1062,"q":-505},{"p":1083,"q":-485},{"p":1105,"q":-463},{"p":1129,"q":-496},{"p":1153,"q":-477},{"p":1179,"q":-506},{"p":1207,"q":-487},{"p":1236,"q":-466},{"p":1266,"q":-503},{"p":1296,"q":-480},
{"p":958,"q":-537},{"p":972,"q":-516},{"p":989,"q":-545},{"p":1006,"q":-522},{"p":1025,"q":-555},{"p":1045,"q":-536},{"p":1065,"q":-514},{"p":1087,"q":-548},{"p":1109,"q":-527},{"p":1133,"q":-559},{"p":1157,"q":-512},{"p":1183,"q":-541},{"p":1210,"q":-529},{"p":1238,"q":-556},{"p":1268,"q":-517},{"p":1297,"q":-533},
{"p":946,"q":-571},{"p":962,"q":-593},{"p":978,"q":-575},{"p":996,"q":-605},{"p":1014,"q":-565},{"p":1034,"q":-590},{"p":1054,"q":-571},{"p":1076,"q":-600},{"p":1098,"q":-581},{"p":1122,"q":-563},{"p":1146,"q":-590},{"p":1172,"q":-567},{"p":1199,"q":-597},{"p":1228,"q":-579},{"p":1257,"q":-605},{"p":1288,"q":-566},
{"p":937,"q":-636},{"p":952,"q":-613},{"p":953,"q":-647},{"p":971,"q":-632},{"p":989,"q":-650},{"p":1008,"q":-615},{"p":1029,"q":-635},{"p":1051,"q":-619},{"p":1073,"q":-650},{"p":1097,"q":-628},{"p":1121,"q":-614},{"p":1147,"q":-638},{"p":1175,"q":-627},{"p":1203,"q":-653},{"p":1233,"q":-618},{"p":1263,"q":-637},{"p":1292,"q":-650}],
"stair":[{"i":0,"p":943.4,"q":-664.7},{"i":1,"p":943.4,"q":-525},{"i":2,"p":965,"q":-525},{"i":3,"p":965,"q":-359.1},{"i":4,"p":1027.1,"q":-359.1},{"i":5,"p":1027.1,"q":-178.6},{"i":6,"p":1078.4,"q":-178.6},{"i":7,"p":1078.4,"q":-82.6},{"i":8,"p":1096.4,"q":-82.6},{"i":9,"p":1096.4,"q":86.2},{"i":10,"p":1136,"q":86.2},{"i":11,"p":1136,"q":185.2},{"i":12,"p":1163.9,"q":185.2},{"i":13,"p":1163.9,"q":511.1},{"i":14,"p":1209.8,"q":511.1},{"i":15,"p":1209.8,"q":720.6},{"i":16,"p":1259,"q":720.6},{"i":17,"p":1259,"q":990.2}],
"oblique":[{"p":909.2,"q":-664.7,"p2":1278.8,"q2":990.2}],
"axislines":[{"axis":"Pu","p":653.6,"q":-756,"p2":1357.4,"q2":-756},{"axis":"Qu","p":669.8,"q":-804.4,"p2":669.8,"q2":1203.8}],
"pointers":[{"name":"Orthogonal DT","p":1209.3,"q":1178.8,"p2":1256.1,"q2":994.2},{"name":"Oblique DT","p":1325,"q":-241.5,"p2":1047,"q2":-241.5}],
"heads":[{"id":"orth","p":1251.6,"q":1012.3},{"id":"obl","p":1053.2,"q":-241.5},{"id":"yax","p":669.8,"q":1186.3},{"id":"xax","p":1352,"q":-756}],
"notes":[{"text":"Orthogonal DT","p":1008.7,"q":1227.1},{"text":"class boundary","p":1008.7,"q":1106.6},{"text":"Oblique DT","p":1337.6,"q":-204.8},{"text":"class boundary","p":1337.6,"q":-356.2}],
"nodes":[{"id":"root","label":"T6 + L6 + D1","n":3000,"red":909,"x0":622.3,"x1":708.3,"y0":34,"y1":83.3,"split":"Pu - 0.22*Qu>1089."},
{"id":"T2","label":"T2: 903","n":903,"red":887,"x0":556,"x1":630.7,"y0":124,"y1":166.7,"split":"Pu - 0.22*Qu>1101."},
{"id":"T5","label":"T5: 2097","n":2097,"red":22,"x0":696,"x1":778.3,"y0":121,"y1":169,"split":"Pu - 0.17*Qu>1109."},
{"id":"L1","label":"L1: 855","n":855,"red":855,"x0":517.3,"x1":591,"y0":202.7,"y1":245,"split":""},
{"id":"T3","label":"T3: 48","n":48,"red":32,"x0":606.7,"x1":658.3,"y0":209.3,"y1":239,"split":"Pu < 1035.3"},
{"id":"L4","label":"L4: 16","n":16,"red":16,"x0":674.3,"x1":720,"y0":216,"y1":241.7,"split":""},
{"id":"T6","label":"T6: 2081","n":2081,"red":6,"x0":736,"x1":818.3,"y0":205,"y1":252.3,"split":"Pu - 0.38*Qu>1160."},
{"id":"L2","label":"L2: 16","n":16,"red":16,"x0":578.3,"x1":623.3,"y0":277.3,"y1":303.3,"split":""},
{"id":"T4","label":"T4: 32","n":32,"red":16,"x0":640,"x1":688.3,"y0":276,"y1":304,"split":"Pu > 1157.9"},
{"id":"L5","label":"L5: 6","n":6,"red":6,"x0":719,"x1":758.3,"y0":301.7,"y1":324,"split":""},
{"id":"L6","label":"L6: 2075","n":2075,"red":0,"x0":775,"x1":856,"y0":289,"y1":336.7,"split":""},
{"id":"L3","label":"L3: 14","n":14,"red":14,"x0":611.7,"x1":656,"y0":341.7,"y1":367.3,"split":""},
{"id":"D1","label":"D1: 18","n":18,"red":2,"x0":672.3,"x1":717.7,"y0":341.7,"y1":367.7,"split":""}],
"edges":[{"b":"Y","x0":627.3,"y0":105,"x1":611.7,"y1":123.3,"lx":611.7,"ly":110},
{"b":"N","x0":703.3,"y0":105,"x1":716.7,"y1":120.7,"lx":718.3,"ly":110},
{"b":"Y","x0":571.7,"y0":188.3,"x1":565,"y1":202.7,"lx":561,"ly":193},
{"b":"N","x0":615,"y0":188.3,"x1":625.7,"y1":208.3,"lx":625,"ly":193},
{"b":"Y","x0":716.7,"y0":190,"x1":703.3,"y1":215,"lx":704,"ly":195},
{"b":"N","x0":758.3,"y0":190,"x1":766,"y1":204,"lx":770,"ly":195},
{"b":"Y","x0":615,"y0":260.7,"x1":608.3,"y1":276.7,"lx":604,"ly":261.3},
{"b":"N","x0":650,"y0":260.7,"x1":656.7,"y1":275,"lx":657,"ly":261},
{"b":"Y","x0":756.7,"y0":273.3,"x1":745,"y1":300,"lx":745.7,"ly":279},
{"b":"N","x0":798.3,"y0":273.3,"x1":805,"y1":288.3,"lx":808.3,"ly":279},
{"b":"Y","x0":647.7,"y0":325,"x1":641.7,"y1":340,"lx":637,"ly":326.1},
{"b":"N","x0":681.7,"y0":325,"x1":688.3,"y1":340.7,"lx":690,"ly":326.1}],
"pe":[{"text":"Pe=0.1%","x0":764,"x1":846,"y0":34.3,"y1":62}]
},
"layer":[
{"layer":[
{"data":{"name":"red"},"mark":{"type":"point","shape":"circle","filled":false,"size":12,"stroke":"#cd5c5c","strokeWidth":0.8,"opacity":0.8},
"encoding":{"x":{"field":"p","type":"quantitative","scale":{"domain":[595.95,2138.7],"nice":false,"zero":false},
"axis":{"orient":"bottom","offset":-17.3,"values":[700,800,900,1000,1100,1200,1300],"labelExpr":"datum.value + '.'","domain":false,"grid":false,"tickSize":3,"tickColor":"black","labelAlign":"left","labelBaseline":"top","labelPadding":0,"labelFontSize":13.5,"labelFont":"Liberation Serif","labelColor":"black","labelFlush":false,"labelOverlap":false,"title":"Pu (MW)","titleX":403,"titleY":-7,"titleAlign":"left","titleBaseline":"alphabetic","titleAnchor":"start","titleFont":"Liberation Serif","titleFontSize":16.5,"titleFontWeight":"normal","titleColor":"black"}},
"y":{"field":"q","type":"quantitative","scale":{"domain":[-856.7,1349.3],"nice":false,"zero":false},
"axis":{"orient":"left","offset":-41,"values":[-500,-250,0,250,500,750,1000],"labelExpr":"datum.value == 0 ? '0.0' : datum.value + '.'","domain":false,"grid":false,"tickSize":3,"tickColor":"black","labelAlign":"right","labelBaseline":"alphabetic","labelPadding":1,"labelFontSize":14,"labelFont":"Liberation Serif","labelColor":"black","labelFlush":false,"labelOverlap":false,"title":"Qu (Mvars)","titleX":2,"titleY":41,"titleAngle":0,"titleAlign":"left","titleBaseline":"alphabetic","titleAnchor":"start","titleFont":"Liberation Serif","titleFontSize":16.5,"titleFontWeight":"normal","titleColor":"black"}}}},
{"data":{"name":"green"},"mark":{"type":"point","shape":"circle","filled":true,"size":11,"color":"#2be82b","opacity":1,"strokeWidth":0},
"encoding":{"x":{"field":"p","type":"quantitative","scale":{"domain":[595.95,2138.7],"nice":false,"zero":false}},"y":{"field":"q","type":"quantitative","scale":{"domain":[-856.7,1349.3],"nice":false,"zero":false}}}},
{"data":{"name":"oblique"},"mark":{"type":"rule","color":"black","strokeWidth":2,"strokeDash":[7,4]},
"encoding":{"x":{"field":"p","type":"quantitative","scale":{"domain":[595.95,2138.7],"nice":false,"zero":false}},"y":{"field":"q","type":"quantitative","scale":{"domain":[-856.7,1349.3],"nice":false,"zero":false}},"x2":{"field":"p2"},"y2":{"field":"q2"}}},
{"data":{"name":"stair"},"mark":{"type":"line","color":"black","strokeWidth":2.5,"strokeJoin":"miter","strokeCap":"square"},
"encoding":{"x":{"field":"p","type":"quantitative","scale":{"domain":[595.95,2138.7],"nice":false,"zero":false}},"y":{"field":"q","type":"quantitative","scale":{"domain":[-856.7,1349.3],"nice":false,"zero":false}},"order":{"field":"i","type":"quantitative"}}},
{"data":{"name":"axislines"},"mark":{"type":"rule","color":"black","strokeWidth":1},
"encoding":{"x":{"field":"p","type":"quantitative","scale":{"domain":[595.95,2138.7],"nice":false,"zero":false}},"y":{"field":"q","type":"quantitative","scale":{"domain":[-856.7,1349.3],"nice":false,"zero":false}},"x2":{"field":"p2"},"y2":{"field":"q2"}}},
{"data":{"name":"pointers"},"mark":{"type":"rule","color":"black","strokeWidth":1.8},
"encoding":{"x":{"field":"p","type":"quantitative","scale":{"domain":[595.95,2138.7],"nice":false,"zero":false}},"y":{"field":"q","type":"quantitative","scale":{"domain":[-856.7,1349.3],"nice":false,"zero":false}},"x2":{"field":"p2"},"y2":{"field":"q2"}}},
{"data":{"name":"heads"},"transform":[{"filter":"datum.id == 'orth'"}],"mark":{"type":"point","shape":"M0,-1L0.45,1L-0.45,1Z","filled":true,"color":"black","opacity":1,"size":64,"angle":140.7},
"encoding":{"x":{"field":"p","type":"quantitative","scale":{"domain":[595.95,2138.7],"nice":false,"zero":false}},"y":{"field":"q","type":"quantitative","scale":{"domain":[-856.7,1349.3],"nice":false,"zero":false}}}},
{"data":{"name":"heads"},"transform":[{"filter":"datum.id == 'obl'"}],"mark":{"type":"point","shape":"M0,-1L0.45,1L-0.45,1Z","filled":true,"color":"black","opacity":1,"size":64,"angle":270},
"encoding":{"x":{"field":"p","type":"quantitative","scale":{"domain":[595.95,2138.7],"nice":false,"zero":false}},"y":{"field":"q","type":"quantitative","scale":{"domain":[-856.7,1349.3],"nice":false,"zero":false}}}},
{"data":{"name":"heads"},"transform":[{"filter":"datum.id == 'yax'"}],"mark":{"type":"point","shape":"M0,-1L0.5,1L-0.5,1Z","filled":true,"color":"black","opacity":1,"size":36,"angle":0},
"encoding":{"x":{"field":"p","type":"quantitative","scale":{"domain":[595.95,2138.7],"nice":false,"zero":false}},"y":{"field":"q","type":"quantitative","scale":{"domain":[-856.7,1349.3],"nice":false,"zero":false}}}},
{"data":{"name":"heads"},"transform":[{"filter":"datum.id == 'xax'"}],"mark":{"type":"point","shape":"M0,-1L0.5,1L-0.5,1Z","filled":true,"color":"black","opacity":1,"size":36,"angle":90},
"encoding":{"x":{"field":"p","type":"quantitative","scale":{"domain":[595.95,2138.7],"nice":false,"zero":false}},"y":{"field":"q","type":"quantitative","scale":{"domain":[-856.7,1349.3],"nice":false,"zero":false}}}},
{"data":{"name":"notes"},"mark":{"type":"text","align":"left","baseline":"alphabetic","fontSize":18,"font":"Liberation Serif","color":"black"},
"encoding":{"x":{"field":"p","type":"quantitative","scale":{"domain":[595.95,2138.7],"nice":false,"zero":false}},"y":{"field":"q","type":"quantitative","scale":{"domain":[-856.7,1349.3],"nice":false,"zero":false}},"text":{"field":"text"}}}
]},
{"layer":[
{"data":{"name":"nodes"},"transform":[{"calculate":"datum.x0 + (datum.x1 - datum.x0) * datum.red / datum.n","as":"xs"},{"filter":"datum.red > 0"}],
"mark":{"type":"rect","fill":"#cd5c5c","stroke":"black","strokeWidth":1.4},
"encoding":{"x":{"field":"x0","type":"quantitative","scale":{"domain":[0,857],"nice":false,"zero":false},"axis":null},"x2":{"field":"xs"},"y":{"field":"y0","type":"quantitative","scale":{"domain":[0,379],"nice":false,"zero":false,"reverse":true},"axis":null},"y2":{"field":"y1"}}},
{"data":{"name":"nodes"},"transform":[{"calculate":"datum.x0 + (datum.x1 - datum.x0) * datum.red / datum.n","as":"xs"},{"filter":"datum.red < datum.n"}],
"mark":{"type":"rect","fill":"#98fb98","stroke":"black","strokeWidth":1.4},
"encoding":{"x":{"field":"xs","type":"quantitative","scale":{"domain":[0,857],"nice":false,"zero":false},"axis":null},"x2":{"field":"x1"},"y":{"field":"y0","type":"quantitative","scale":{"domain":[0,379],"nice":false,"zero":false,"reverse":true},"axis":null},"y2":{"field":"y1"}}},
{"data":{"name":"nodes"},"transform":[{"filter":{"field":"id","oneOf":["root","T2","L1","L4","L2","L5","L3"]}}],
"mark":{"type":"text","align":"left","baseline":"alphabetic","dy":-2.5,"fontSize":10.5,"font":"Liberation Serif","color":"black"},
"encoding":{"x":{"field":"x0","type":"quantitative","scale":{"domain":[0,857],"nice":false,"zero":false},"axis":null},"y":{"field":"y0","type":"quantitative","scale":{"domain":[0,379],"nice":false,"zero":false,"reverse":true},"axis":null},"text":{"field":"label"}}},
{"data":{"name":"nodes"},"transform":[{"filter":{"field":"id","oneOf":["T5","T3","T6","T4","L6","D1"]}}],
"mark":{"type":"text","align":"right","baseline":"alphabetic","dy":-2.5,"fontSize":10.5,"font":"Liberation Serif","color":"black"},
"encoding":{"x":{"field":"x1","type":"quantitative","scale":{"domain":[0,857],"nice":false,"zero":false},"axis":null},"y":{"field":"y0","type":"quantitative","scale":{"domain":[0,379],"nice":false,"zero":false,"reverse":true},"axis":null},"text":{"field":"label"}}},
{"data":{"name":"nodes"},"transform":[{"filter":"datum.split != ''"},{"calculate":"(datum.x0 + datum.x1) / 2","as":"xc"}],
"mark":{"type":"text","align":"center","baseline":"middle","dy":9,"fontSize":16,"font":"Liberation Serif","color":"black"},
"encoding":{"x":{"field":"xc","type":"quantitative","scale":{"domain":[0,857],"nice":false,"zero":false},"axis":null},"y":{"field":"y1","type":"quantitative","scale":{"domain":[0,379],"nice":false,"zero":false,"reverse":true},"axis":null},"text":{"field":"split"}}},
{"data":{"name":"edges"},"mark":{"type":"rule","color":"black","strokeWidth":1.2},
"encoding":{"x":{"field":"x0","type":"quantitative","scale":{"domain":[0,857],"nice":false,"zero":false},"axis":null},"x2":{"field":"x1"},"y":{"field":"y0","type":"quantitative","scale":{"domain":[0,379],"nice":false,"zero":false,"reverse":true},"axis":null},"y2":{"field":"y1"}}},
{"data":{"name":"edges"},"mark":{"type":"text","align":"center","baseline":"middle","fontSize":10.5,"font":"Liberation Serif","color":"black"},
"encoding":{"x":{"field":"lx","type":"quantitative","scale":{"domain":[0,857],"nice":false,"zero":false},"axis":null},"y":{"field":"ly","type":"quantitative","scale":{"domain":[0,379],"nice":false,"zero":false,"reverse":true},"axis":null},"text":{"field":"b"}}},
{"data":{"name":"pe"},"mark":{"type":"rect","fill":"white","stroke":"black","strokeWidth":1,"cornerRadius":8},
"encoding":{"x":{"field":"x0","type":"quantitative","scale":{"domain":[0,857],"nice":false,"zero":false},"axis":null},"x2":{"field":"x1"},"y":{"field":"y0","type":"quantitative","scale":{"domain":[0,379],"nice":false,"zero":false,"reverse":true},"axis":null},"y2":{"field":"y1"}}},
{"data":{"name":"pe"},"transform":[{"calculate":"(datum.x0 + datum.x1) / 2","as":"xc"},{"calculate":"(datum.y0 + datum.y1) / 2","as":"yc"}],
"mark":{"type":"text","align":"center","baseline":"middle","fontSize":16,"font":"Liberation Serif","color":"black"},
"encoding":{"x":{"field":"xc","type":"quantitative","scale":{"domain":[0,857],"nice":false,"zero":false},"axis":null},"y":{"field":"yc","type":"quantitative","scale":{"domain":[0,379],"nice":false,"zero":false,"reverse":true},"axis":null},"text":{"field":"text"}}}
]}
],
"resolve":{"scale":{"x":"independent","y":"independent"},"axis":{"x":"independent","y":"independent"}}
}
